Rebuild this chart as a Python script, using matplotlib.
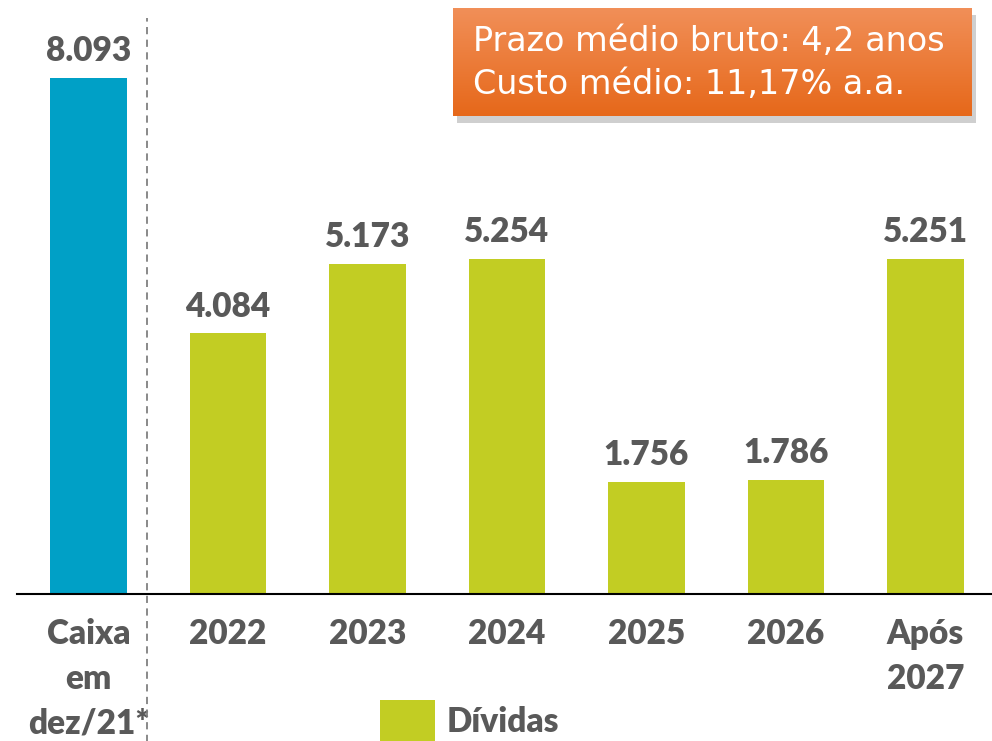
#! /usr/bin/env python3
# -*- coding: utf-8 -*-
import numpy as np
import matplotlib
matplotlib.use('Agg')
import matplotlib.pyplot as plt
from matplotlib.patches import Patch, Rectangle

Categories = ['Caixa\nem\ndez/21*', '2022', '2023', '2024', '2025', '2026', 'Após\n2027']
Values = [8093, 4084, 5173, 5254, 1756, 1786, 5251]
Value_labels = ['8.093', '4.084', '5.173', '5.254', '1.756', '1.786', '5.251']
Box_lines = ['Prazo médio bruto: 4,2 anos', 'Custo médio: 11,17% a.a.']
Legend_label = 'Dívidas'

Cyan = '#00A0C6'
Green = '#C2CD23'
Gray = '#595959'
Font = 'Lato'


def plotDebtSchedule():
    fig = plt.figure(figsize=(9.92, 7.41), dpi=100)
    ax = fig.add_axes([17 / 992, 147 / 741, 975 / 992, 594 / 741])
    x = np.arange(len(Categories))
    colors = [Cyan] + [Green] * (len(Categories) - 1)
    ax.bar(x, Values, width=0.55, color=colors, zorder=2)
    for xi, v, lab in zip(x, Values, Value_labels):
        ax.text(xi, v + 170, lab, ha='center', va='bottom', fontsize=24,
                fontweight='heavy', color=Gray, family=Font)

    ax.set_xlim(-0.513, 6.477)
    ax.set_ylim(0, 9310)
    for side in ['top', 'right', 'left']:
        ax.spines[side].set_visible(False)
    ax.spines['bottom'].set_color('black')
    ax.spines['bottom'].set_linewidth(1.5)
    ax.set_yticks([])
    ax.set_xticks(x)
    ax.set_xticklabels(Categories, fontsize=24, fontweight='heavy', color=Gray,
                       family=Font, linespacing=1.5, va='top')
    ax.tick_params(axis='x', length=0, pad=17)

    # separator between cash and debt
    ax.axvline(0.42, ymin=-0.25, ymax=0.97, color='#808080', ls=(0, (4, 3)),
               lw=1.3, clip_on=False, zorder=3)

    # orange summary box with shadow
    bl, bb, bw, bh = 453 / 992, 625 / 741, 519 / 992, 108 / 741
    sax = fig.add_axes([bl + 0.004, bb - 0.009, bw, bh])
    sax.add_patch(Rectangle((0, 0), 1, 1, transform=sax.transAxes,
                            facecolor='#a0a0a0', alpha=0.5, edgecolor='none'))
    sax.set_axis_off()
    bax = fig.add_axes([bl, bb, bw, bh])
    grad = np.linspace(0, 1, 100).reshape(-1, 1)
    top = np.array([241, 143, 88]) / 255
    bot = np.array([230, 104, 26]) / 255
    img = top + (bot - top) * grad[:, :, None]
    bax.imshow(img, aspect='auto', extent=[0, 1, 0, 1])
    bax.set_axis_off()
    bax.text(0.0385, 0.69, Box_lines[0], ha='left', va='center', fontsize=24,
             color='white', family='DejaVu Sans')
    bax.text(0.0385, 0.29, Box_lines[1], ha='left', va='center', fontsize=24,
             color='white', family='DejaVu Sans')

    handle = Patch(facecolor=Green, edgecolor='none')
    fig.legend([handle], [Legend_label], loc='lower left', bbox_to_anchor=(350 / 992, -30 / 741),
               frameon=False, prop={'family': Font, 'weight': 'heavy', 'size': 24},
               handlelength=1.65, handleheight=1.5, handletextpad=0.35, labelcolor=Gray)
    fig.savefig('out.png', dpi=100)
    return


def main():
    plotDebtSchedule()


if __name__ == '__main__':
    main()
